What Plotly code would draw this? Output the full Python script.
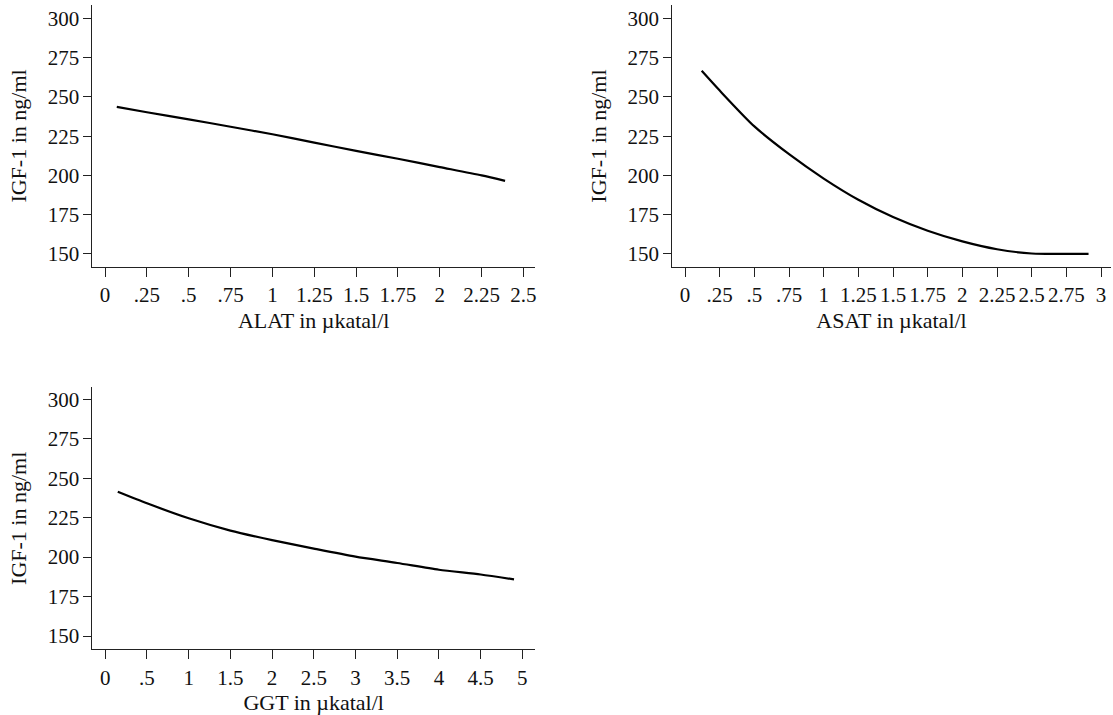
import plotly.graph_objects as go

# ---- data ----
alat_x = [0.07, 0.25, 0.5, 0.75, 1.0, 1.25, 1.5, 1.75, 2.0, 2.25, 2.39]
alat_y = [243.6, 240.2, 235.7, 231.0, 226.2, 220.9, 215.6, 210.6, 205.3, 200.0, 196.5]

asat_x = [0.12, 0.25, 0.5, 0.75, 1.0, 1.25, 1.5, 1.75, 2.0, 2.25, 2.5, 2.75, 2.91]
asat_y = [266.6, 254.0, 231.2, 213.5, 198.0, 184.5, 173.5, 164.8, 158.0, 153.0, 150.3, 150.0, 150.0]

ggt_x = [0.15, 0.5, 1.0, 1.5, 2.0, 2.5, 3.0, 3.5, 4.0, 4.5, 4.9]
ggt_y = [241.4, 234.1, 224.6, 216.8, 210.8, 205.4, 200.3, 196.3, 192.0, 189.0, 185.9]

y_ticks = [150, 175, 200, 225, 250, 275, 300]
alat_ticks = [0, 0.25, 0.5, 0.75, 1, 1.25, 1.5, 1.75, 2, 2.25, 2.5]
alat_labels = ["0", ".25", ".5", ".75", "1", "1.25", "1.5", "1.75", "2", "2.25", "2.5"]
asat_ticks = [0, 0.25, 0.5, 0.75, 1, 1.25, 1.5, 1.75, 2, 2.25, 2.5, 2.75, 3]
asat_labels = ["0", ".25", ".5", ".75", "1", "1.25", "1.5", "1.75", "2", "2.25", "2.5", "2.75", "3"]
ggt_ticks = [0, 0.5, 1, 1.5, 2, 2.5, 3, 3.5, 4, 4.5, 5]
ggt_labels = ["0", ".5", "1", "1.5", "2", "2.5", "3", "3.5", "4", "4.5", "5"]

y_title = "IGF-1 in ng/ml"
x_titles = ["ALAT in \u00b5katal/l", "ASAT in \u00b5katal/l", "GGT in \u00b5katal/l"]

FONT = "Liberation Serif, Times New Roman, serif"
AX = "#222222"
TICKF = dict(family=FONT, size=21, color="#111111")
TITLEF = dict(family=FONT, size=22, color="#111111")

fig = go.Figure()
line = dict(color="#000000", width=2.2, shape="spline", smoothing=0.7)
fig.add_trace(go.Scatter(x=alat_x, y=alat_y, mode="lines", line=line, xaxis="x", yaxis="y", showlegend=False))
fig.add_trace(go.Scatter(x=asat_x, y=asat_y, mode="lines", line=line, xaxis="x2", yaxis="y2", showlegend=False))
fig.add_trace(go.Scatter(x=ggt_x, y=ggt_y, mode="lines", line=line, xaxis="x3", yaxis="y3", showlegend=False))


def xax(dom, rng, ticks, labels, title, anchor):
    return dict(domain=dom, range=rng, anchor=anchor, tickmode="array", tickvals=ticks, ticktext=labels,
                showline=True, linecolor=AX, linewidth=1, ticks="outside", ticklen=9, tickcolor=AX,
                tickwidth=1, showgrid=False, zeroline=False, tickfont=TICKF,
                ticklabelstandoff=0,
                title=dict(text=title, font=TITLEF, standoff=6))


def yax(dom, rng, anchor):
    return dict(domain=dom, range=rng, anchor=anchor, tickmode="array", tickvals=y_ticks,
                ticktext=[str(v) for v in y_ticks],
                showline=True, linecolor=AX, linewidth=1, ticks="outside", ticklen=8, tickcolor=AX,
                tickwidth=1, showgrid=False, zeroline=False, tickfont=TICKF,
                title=dict(text=y_title, font=TITLEF, standoff=14))


W, H = 1113, 715
top_dom = [1 - 267 / H, 1 - 5 / H]
bot_dom = [1 - 649.3 / H, 1 - 387.3 / H]
left_dom = [92.5 / W, 536 / W]
right_dom = [673.3 / W, 1.0]

fig.update_layout(
    width=W, height=H,
    margin=dict(l=0, r=0, t=0, b=0),
    paper_bgcolor="white", plot_bgcolor="white",
    font=dict(family=FONT),
    xaxis=xax(left_dom, [-0.076, 2.569], alat_ticks, alat_labels, x_titles[0], "y"),
    yaxis=yax(top_dom, [141.7, 308.5], "x"),
    xaxis2=xax(right_dom, [-0.0936, 3.072], asat_ticks, asat_labels, x_titles[1], "y2"),
    yaxis2=yax(top_dom, [141.7, 308.5], "x2"),
    xaxis3=xax(left_dom, [-0.155, 5.152], ggt_ticks, ggt_labels, x_titles[2], "y3"),
    yaxis3=yax(bot_dom, [141.6, 307.6], "x3"),
)

fig.write_html("out.html")
